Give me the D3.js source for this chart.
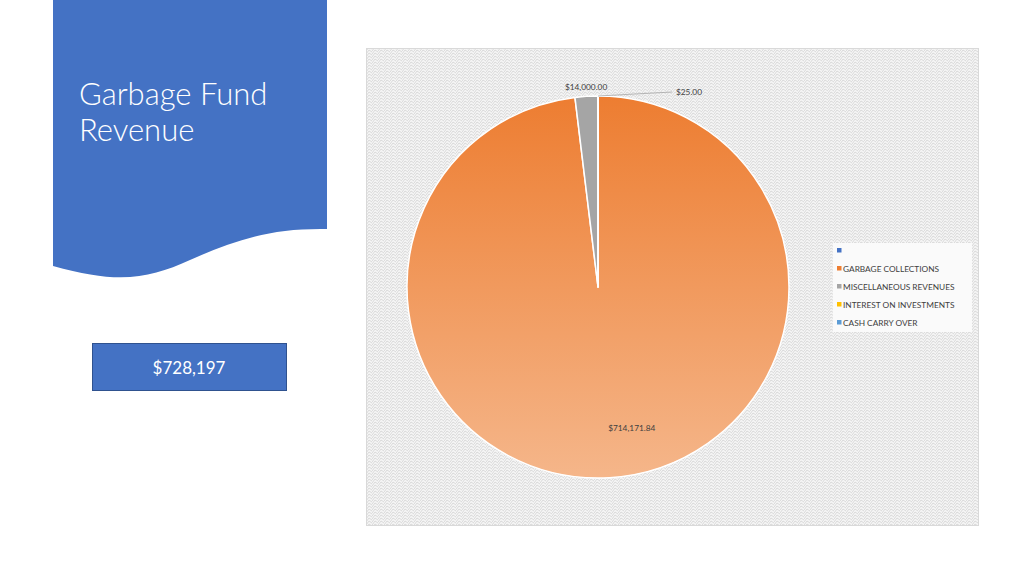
<!DOCTYPE html>
<html>
<head>
<meta charset="utf-8">
<title>Garbage Fund Revenue</title>
<script src="https://cdn.jsdelivr.net/npm/d3@7"></script>
<style>
  body { margin: 0; background: #fff; }
  svg { display: block; font-family: Lato, "Open Sans", sans-serif; }
</style>
</head>
<body>
<div id="chart"></div>
<script>
// data
var categories = ['', 'GARBAGE COLLECTIONS', 'MISCELLANEOUS REVENUES', 'INTEREST ON INVESTMENTS', 'CASH CARRY OVER'];
var amounts = [0, 714171.84, 14000, 25, 0];
var colors = ['#4472C4', '#ED7D31', '#A5A5A5', '#FFC000', '#5B9BD5'];
var totalLabel = '$728,197';
var title = ['Garbage Fund', 'Revenue'];

var width = 1024, height = 576;
var svg = d3.select('#chart').append('svg')
    .attr('width', width)
    .attr('height', height);

var defs = svg.append('defs');

// wavy hatch for chart area
var pat = defs.append('pattern')
    .attr('id', 'wave')
    .attr('patternUnits', 'userSpaceOnUse')
    .attr('width', 6).attr('height', 6);
pat.append('rect').attr('width', 6).attr('height', 6).attr('fill', '#f5f5f5');
pat.append('path')
    .attr('d', 'M0,6 L3,2 L6,4 M0,3 L3,-1 L6,1 M0,9 L3,5 L6,7')
    .attr('fill', 'none')
    .attr('stroke', '#d6d6d6')
    .attr('stroke-width', 0.9);

// blue title shape
svg.append('path')
    .attr('d', 'M53,0 H327 V229 C270,228 235,240 190,260 C150,278 120,285 53,266 Z')
    .attr('fill', '#4472C4');

svg.selectAll('.title')
    .data(title)
    .enter()
    .append('text')
        .attr('x', 79)
        .attr('y', (d, i) => 105 + i * 36)
        .attr('fill', '#fff')
        .attr('font-size', 31)
        .attr('font-weight', 300)
        .text(d => d);

// total box
svg.append('rect')
    .attr('x', 92.5).attr('y', 343.5)
    .attr('width', 194).attr('height', 47)
    .attr('fill', '#4472C4')
    .attr('stroke', '#2F528F')
    .attr('stroke-width', 1);
svg.append('text')
    .attr('x', 189).attr('y', 374)
    .attr('text-anchor', 'middle')
    .attr('fill', '#fff')
    .attr('font-size', 17)
    .text(totalLabel);

// chart area
svg.append('rect')
    .attr('x', 366.5).attr('y', 48.5)
    .attr('width', 612).attr('height', 477)
    .attr('fill', 'url(#wave)')
    .attr('stroke', '#d9d9d9');

var cx = 598, cy = 287, r = 191;

// gradient in the pie group's own coordinates
var grad = defs.append('linearGradient')
    .attr('id', 'orange')
    .attr('gradientUnits', 'userSpaceOnUse')
    .attr('x1', 0).attr('y1', -r)
    .attr('x2', 0).attr('y2', r);
grad.append('stop').attr('offset', 0).attr('stop-color', '#ED7D31');
grad.append('stop').attr('offset', 1).attr('stop-color', '#F5B68A');

var slices = d3.pie().sort(null).value(d => d)(amounts);
var arc = d3.arc().innerRadius(0).outerRadius(r);

var g = svg.append('g').attr('transform', `translate(${cx},${cy})`);
g.selectAll('path')
    .data(slices)
    .enter()
    .append('path')
        .attr('d', arc)
        .attr('fill', (d, i) => i === 1 ? 'url(#orange)' : colors[i])
        .attr('stroke', '#fff')
        .attr('stroke-width', 1.5)
        .attr('stroke-linejoin', 'round');

var fmt = d3.format('$,.2f');

// garbage label inside
var inner = d3.arc().innerRadius(r * 0.76).outerRadius(r * 0.76);
var gc = inner.centroid(slices[1]);
g.append('text')
    .attr('x', gc[0] + 25).attr('y', gc[1] - 1)
    .attr('text-anchor', 'middle')
    .attr('font-size', 8.3)
    .attr('fill', '#404040')
    .text(fmt(amounts[1]));

// misc label just outside the slice
var outer = d3.arc().innerRadius(r + 6).outerRadius(r + 6);
var mc = outer.centroid(slices[2]);
g.append('text')
    .attr('x', mc[0]).attr('y', mc[1])
    .attr('text-anchor', 'middle')
    .attr('font-size', 8.3)
    .attr('fill', '#404040')
    .text(fmt(amounts[2]));

// interest label with leader line
var ic = d3.arc().innerRadius(r).outerRadius(r).centroid(slices[3]);
g.append('polyline')
    .attr('points', `${ic[0]},${ic[1]} ${ic[0] + 74},${ic[1] - 4}`)
    .attr('fill', 'none')
    .attr('stroke', '#a6a6a6')
    .attr('stroke-width', 0.8);
g.append('text')
    .attr('x', ic[0] + 78).attr('y', ic[1] - 1)
    .attr('font-size', 8.3)
    .attr('fill', '#404040')
    .text(fmt(amounts[3]));

// legend
svg.append('rect')
    .attr('x', 833).attr('y', 243)
    .attr('width', 139).attr('height', 89)
    .attr('fill', '#fafafa');

var leg = svg.selectAll('.leg')
    .data(categories)
    .enter()
    .append('g')
        .attr('transform', (d, i) => `translate(837,${251 + i * 18})`);
leg.append('rect')
    .attr('x', 0).attr('y', -3)
    .attr('width', 4.5).attr('height', 4.5)
    .attr('fill', (d, i) => colors[i]);
leg.append('text')
    .attr('x', 6).attr('y', 2.5)
    .attr('font-size', 8.3)
    .attr('fill', '#404040')
    .text(d => d);
</script>
</body>
</html>
